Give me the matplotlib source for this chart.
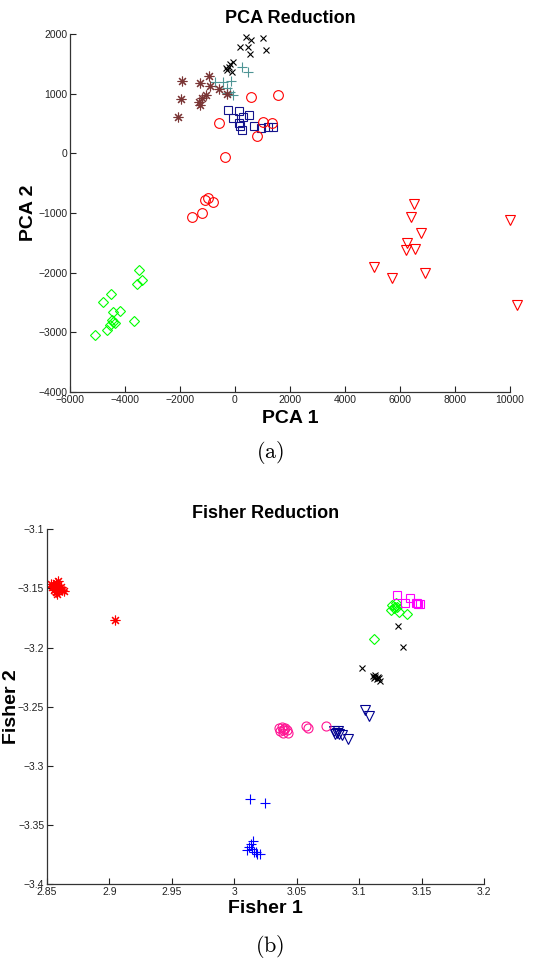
import matplotlib
matplotlib.use('Agg')
import matplotlib.pyplot as plt
from matplotlib.ticker import FuncFormatter

# ---- (a) PCA reduction ----
pca_x_x = [389, 571, 1007, 182, 484, 1127, 545, -62, -182, -327, -207, -120, -280]
pca_x_y = [1945, 1900, 1928, 1777, 1787, 1732, 1665, 1536, 1497, 1425, 1452, 1368, 1397]

pca_plus_x = [244, 484, -727, -425, -156, -280, -182, -62, -302]
pca_plus_y = [1442, 1368, 1201, 1201, 1217, 1090, 1033, 978, 1006]

pca_star_x = [-1916, -1273, -935, -909, -571, -1975, -1211, -1055, -1273, -2062, -280, -1298]
pca_star_y = [1217, 1174, 1301, 1129, 1078, 906, 922, 978, 810, 614, 994, 865]

pca_sq_x = [-244, 156, -62, 302, 509, 156, 182, 254, 691, 945, 1211, 1393]
pca_sq_y = [726, 715, 587, 614, 643, 513, 458, 391, 458, 430, 436, 443]

pca_circ_x = [582, 1575, -571, 1007, 1335, 811, -353, -1575, -1211, -1091, -971, -789]
pca_circ_y = [944, 978, 503, 530, 503, 291, -66, -1072, -1005, -782, -743, -810]

pca_tri_x = [6520, 6389, 6753, 6265, 6218, 6545, 5055, 5698, 6909, 10000, 10250]
pca_tri_y = [-849, -1062, -1330, -1498, -1620, -1608, -1910, -2094, -2000, -1117, -2542]

pca_dia_x = [-3502, -3393, -3553, -4811, -4520, -4425, -4182, -3662, -4484, -4425,
             -4545, -4665, -5091, -4364]
pca_dia_y = [-1955, -2123, -2195, -2486, -2357, -2664, -2642, -2810, -2793, -2821,
             -2877, -2960, -3044, -2838]

# ---- (b) Fisher reduction ----
fis_star_x = [2.853, 2.855, 2.857, 2.858, 2.860, 2.856, 2.859, 2.861, 2.854, 2.857,
              2.862, 2.858, 2.859, 2.856, 2.860, 2.864, 2.9042]
fis_star_y = [-3.146, -3.148, -3.145, -3.150, -3.152, -3.151, -3.147, -3.149, -3.149,
              -3.153, -3.151, -3.155, -3.144, -3.147, -3.150, -3.152, -3.1769]

fis_sq_x = [3.1302, 3.1406, 3.1369, 3.1454, 3.1475, 3.1467, 3.1486]
fis_sq_y = [-3.1557, -3.1585, -3.1622, -3.1627, -3.1633, -3.1627, -3.1633]

fis_dia_x = [3.1267, 3.1294, 3.1280, 3.1254, 3.1307, 3.1321, 3.1387, 3.1120, 3.1288]
fis_dia_y = [-3.1642, -3.1627, -3.1669, -3.1684, -3.1656, -3.1698, -3.1718, -3.1924, -3.1656]

fis_x_x = [3.1313, 3.1353, 3.1026, 3.111, 3.113, 3.115, 3.114, 3.116, 3.112, 3.117, 3.113]
fis_x_y = [-3.1817, -3.1995, -3.2169, -3.224, -3.223, -3.225, -3.227, -3.226, -3.226,
           -3.228, -3.225]

fis_tri_x = [3.1048, 3.1080, 3.080, 3.082, 3.084, 3.083, 3.086, 3.081, 3.0914]
fis_tri_y = [-3.2531, -3.2582, -3.271, -3.272, -3.273, -3.271, -3.274, -3.273, -3.2771]

fis_circ_x = [3.036, 3.038, 3.040, 3.042, 3.039, 3.037, 3.041, 3.043, 3.039,
              3.0573, 3.0594, 3.0738]
fis_circ_y = [-3.268, -3.267, -3.269, -3.270, -3.272, -3.271, -3.268, -3.272, -3.270,
              -3.2667, -3.2678, -3.2664]

fis_plus_x = [3.0124, 3.0247, 3.0132, 3.0153, 3.0119, 3.0105, 3.0145, 3.0172, 3.0185,
              3.0207, 3.0159]
fis_plus_y = [-3.3283, -3.3311, -3.3661, -3.3639, -3.369, -3.3712, -3.3703, -3.3732,
              -3.3746, -3.3746, -3.3732]

plt.rcParams['font.family'] = ['Liberation Sans', 'DejaVu Sans']
plt.rcParams['mathtext.fontset'] = 'cm'

fig = plt.figure(figsize=(5.4, 9.6), dpi=100)
ax1 = fig.add_axes([0.1296, 0.5917, 0.8148, 0.3729])
ax2 = fig.add_axes([0.0870, 0.0792, 0.8093, 0.3694])

star = (8, 2, 0)
ms = 6
lw = 0.8


def mark(ax, x, y, m, c, size=ms, clip=True):
    ax.plot(x, y, linestyle='none', marker=m, markersize=size, markerfacecolor='none',
            markeredgecolor=c, markeredgewidth=lw, clip_on=clip)


mark(ax1, pca_x_x, pca_x_y, 'x', 'black', 5)
mark(ax1, pca_plus_x, pca_plus_y, '+', '#4f9595', 7)
mark(ax1, pca_star_x, pca_star_y, star, '#7a3535', 7)
mark(ax1, pca_sq_x, pca_sq_y, 's', '#14148c', 6)
mark(ax1, pca_circ_x, pca_circ_y, 'o', 'red', 7)
mark(ax1, pca_tri_x, pca_tri_y, 'v', 'red', 6.5, clip=False)
mark(ax1, pca_dia_x, pca_dia_y, 'D', '#00ff00', 5.5)

mark(ax2, fis_star_x, fis_star_y, star, 'red', 7)
mark(ax2, fis_dia_x, fis_dia_y, 'D', '#00ff00', 5.5)
mark(ax2, fis_sq_x, fis_sq_y, 's', '#ff00ff', 6)
mark(ax2, fis_x_x, fis_x_y, 'x', 'black', 4.5)
mark(ax2, fis_tri_x, fis_tri_y, 'v', '#000090', 6.5)
mark(ax2, fis_circ_x, fis_circ_y, 'o', '#ff1493', 6.5)
mark(ax2, fis_plus_x, fis_plus_y, '+', '#0000ff', 7)

fmt = FuncFormatter(lambda v, p: ('%g' % round(v, 4)).replace('-', '\u2212'))

ax1.set_xlim(-6000, 10000)
ax1.set_ylim(-4000, 2000)
ax1.set_xticks(range(-6000, 10001, 2000))
ax1.set_yticks(range(-4000, 2001, 1000))
ax2.set_xlim(2.85, 3.2)
ax2.set_ylim(-3.4, -3.1)
ax2.set_xticks([2.85 + 0.05 * i for i in range(8)])
ax2.set_yticks([-3.4 + 0.05 * i for i in range(7)])

for ax in (ax1, ax2):
    ax.spines['top'].set_visible(False)
    ax.spines['right'].set_visible(False)
    for s in ('left', 'bottom'):
        ax.spines[s].set_color('#333333')
        ax.spines[s].set_linewidth(0.9)
    ax.tick_params(direction='in', length=4, width=0.8, labelsize=7.5,
                   colors='#222222', pad=2)
    ax.xaxis.set_major_formatter(fmt)
    ax.yaxis.set_major_formatter(fmt)

ax1.set_title('PCA Reduction', fontsize=13, fontweight='bold', pad=8)
ax1.set_xlabel('PCA 1', fontsize=14, fontweight='bold')
ax1.set_ylabel('PCA 2', fontsize=14, fontweight='bold')
ax1.xaxis.set_label_coords(0.5, -0.05)
ax1.yaxis.set_label_coords(-0.075, 0.5)

ax2.set_title('Fisher Reduction', fontsize=13, fontweight='bold', pad=8)
ax2.set_xlabel('Fisher 1', fontsize=14, fontweight='bold')
ax2.set_ylabel('Fisher 2', fontsize=14, fontweight='bold')
ax2.xaxis.set_label_coords(0.5, -0.045)
ax2.yaxis.set_label_coords(-0.062, 0.5)

fig.text(270 / 540, 1 - 452 / 960, r'$\mathrm{(a)}$', fontsize=16, ha='center', va='center')
fig.text(270 / 540, 1 - 947 / 960, r'$\mathrm{(b)}$', fontsize=16, ha='center', va='center')

fig.savefig('out.png', dpi=100)
